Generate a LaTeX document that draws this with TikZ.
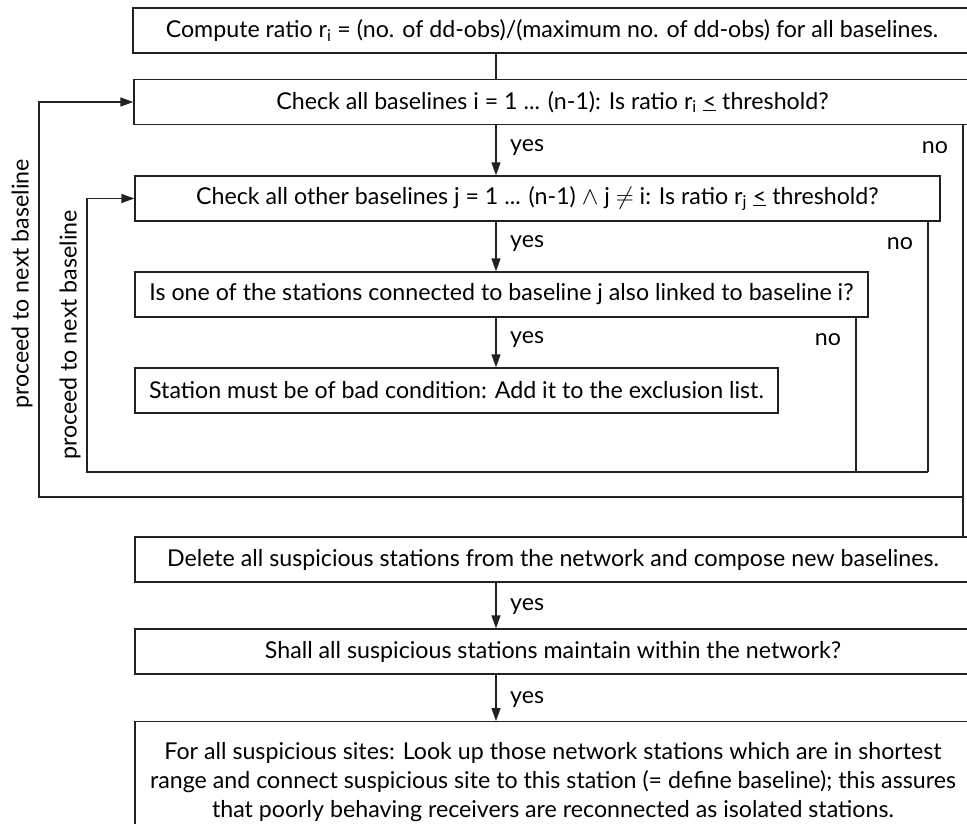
\documentclass[tikz,border=0pt]{standalone}
\usepackage{fontspec}
\setmainfont{Lato}
\usetikzlibrary{arrows.meta}
\definecolor{ink}{rgb}{0.13,0.13,0.13}
\newcommand{\sub}[1]{\textsubscript{#1}}
\begin{document}
\begin{tikzpicture}[x=1pt,y=-1pt,
  line/.style={draw=ink, line width=1.4pt},
  arr/.style={line, -{Triangle[length=13pt,width=9pt]}},
  box/.style={line, rectangle, inner sep=0pt, minimum height=45pt,
              font=\fontsize{23.2}{29}\selectfont, align=center},
  lbl/.style={font=\fontsize{23.2}{29}\selectfont, inner sep=0pt},
  loop/.style={lbl, rotate=90}]
\path[use as bounding box, clip] (0,0) rectangle (967,823);

% decision boxes
\node[box, minimum width=838pt] (top) at (552,30.5)
  {Compute ratio r\sub{i} = (no. of dd-obs)/(maximum no. of dd-obs) for all baselines.};
\node[box, minimum width=837pt] (chki) at (552.5,102)
  {Check all baselines i = 1 ... (n-1): Is ratio r\sub{i} \underline{<} threshold?};
\node[box, minimum width=805pt] (chkj) at (537.5,198.5)
  {Check all other baselines j = 1 ... (n-1) $\wedge$ j $\neq$ i: Is ratio r\sub{j} \underline{<} threshold?};
\node[box, minimum width=733pt] (link) at (501.5,294.5)
  {Is one of the stations connected to baseline j also linked to baseline i?};
\node[box, minimum width=643pt] (bad) at (456.5,390.5)
  {Station must be of bad condition: Add it to the exclusion list.};
\node[box, minimum width=836pt] (del) at (553,559.5)
  {Delete all suspicious stations from the network and compose new baselines.};
\node[box, minimum width=836pt] (shall) at (553,651.5)
  {Shall all suspicious stations maintain within the network?};
\node[box, minimum width=836pt, minimum height=120pt, anchor=north] (iso) at (553,721)
  {For all suspicious sites: Look up those network stations which are in shortest\\
   range and connect suspicious site to this station (= define baseline); this assures\\
   that poorly behaving receivers are reconnected as isolated stations.};

% guide coordinates for the vertical connectors
\coordinate (xa) at (496,0);
\coordinate (xo) at (963,0);
\coordinate (xj) at (928,0);
\coordinate (xl) at (856,0);
\coordinate (ob) at (39,497);
\coordinate (ib) at (87,472);

% main flow
\draw[line] (top.south -| xa) -- (chki.north -| xa);
\draw[arr] (chki.south -| xa) -- (chkj.north -| xa);
\draw[arr] (chkj.south -| xa) -- (link.north -| xa);
\draw[arr] (link.south -| xa) -- (bad.north -| xa);
\draw[arr] (del.south -| xa) -- (shall.north -| xa);
\draw[arr] (shall.south -| xa) -- (iso.north -| xa);

% "no" branches and loops
\draw[line] (chki.south -| xo) -- (del.north -| xo);
\draw[arr] (ob -| xo) -- (ob) |- (chki.west);
\draw[line] (chkj.south -| xj) -- (ib -| xj);
\draw[line] (link.south -| xl) -- (ib -| xl);
\draw[arr] (ib -| xj) -- (ib) |- (chkj.west);

% branch labels
\node[lbl, anchor=west] (y1) at (510,148) {yes};
\node[lbl, anchor=west] (y2) at (510,244) {yes};
\node[lbl, anchor=west] (y3) at (510,340) {yes};
\node[lbl, anchor=west] (y4) at (510,607) {yes};
\node[lbl, anchor=west] (y5) at (510,700) {yes};
\node[lbl] (n1) at (935,148) {no};
\node[lbl] (n2) at (900,244) {no};
\node[lbl] (n3) at (828,340) {no};
\node[loop] (po) at (22,284) {proceed to next baseline};
\node[loop] (pi) at (70,335) {proceed to next baseline};
\end{tikzpicture}
\end{document}
